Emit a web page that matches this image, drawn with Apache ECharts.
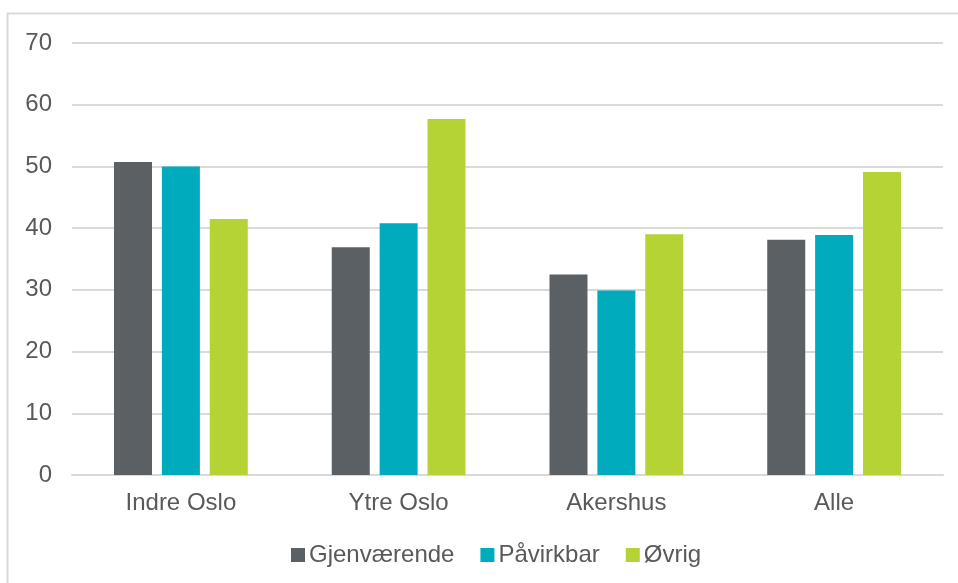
<!DOCTYPE html>
<html>
<head>
<meta charset="utf-8">
<script src="https://cdn.jsdelivr.net/npm/echarts@6/dist/echarts.min.js"></script>
<style>
  html, body { margin: 0; padding: 0; background: #fff; }
  #chart { width: 958px; height: 583px; }
</style>
</head>
<body>
<div id="chart"></div>
<script>
// Regions on the category axis
const regions = ['Indre Oslo', 'Ytre Oslo', 'Akershus', 'Alle'];

// Series values per region
const gjenvaerende = [50.7, 36.9, 32.5, 38.1];
const paavirkbar = [50.0, 40.8, 29.9, 38.9];
const ovrig = [41.5, 57.7, 39.0, 49.1];

const seriesNames = ['Gjenværende', 'Påvirkbar', 'Øvrig'];
const seriesColors = ['#5B6064', '#00ABBD', '#B5D334'];
const seriesData = [gjenvaerende, paavirkbar, ovrig];

const textColor = '#595959';
const fontFamily = '"Liberation Sans", Arial, sans-serif';

const chart = echarts.init(document.getElementById('chart'), null, { renderer: 'canvas' });

chart.setOption({
  animation: false,
  backgroundColor: '#ffffff',
  graphic: [{
    type: 'rect',
    shape: { x: 7.5, y: 13.5, width: 960, height: 600 },
    style: { fill: 'none', stroke: '#D9D9D9', lineWidth: 2 },
    silent: true
  }],
  grid: { left: 72, right: 15, top: 43, bottom: 108, containLabel: false },
  legend: {
    bottom: 11,
    left: 286,
    itemWidth: 14,
    itemHeight: 14,
    itemGap: 26,
    icon: 'rect',
    textStyle: { color: textColor, fontSize: 24, fontFamily: fontFamily, padding: [0, 0, 0, -1] },
    data: seriesNames
  },
  xAxis: {
    type: 'category',
    data: regions,
    axisLine: { show: true, lineStyle: { color: '#D9D9D9', width: 2 } },
    axisTick: { show: false },
    axisLabel: { color: textColor, fontSize: 24, fontFamily: fontFamily, margin: 16 }
  },
  yAxis: {
    type: 'value',
    min: 0,
    max: 70,
    interval: 10,
    axisLine: { show: false },
    axisTick: { show: false },
    splitLine: { lineStyle: { color: '#D9D9D9', width: 2 } },
    axisLabel: { color: textColor, fontSize: 24, fontFamily: fontFamily, margin: 20 }
  },
  series: seriesNames.map((name, i) => ({
    name: name,
    type: 'bar',
    data: seriesData[i],
    barWidth: 38,
    barGap: '26%',
    itemStyle: { color: seriesColors[i] }
  }))
});
</script>
</body>
</html>
